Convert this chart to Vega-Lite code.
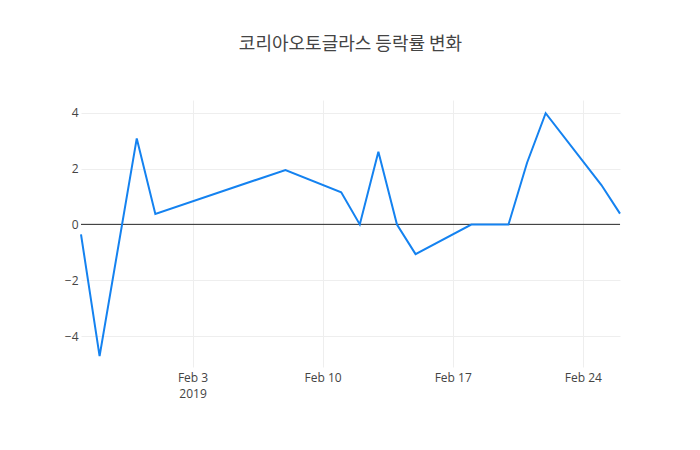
{
  "$schema": "https://vega.github.io/schema/vega-lite/v6.json",
  "autosize": {"type": "none"},
  "width": 539,
  "height": 267,
  "padding": {"left": 81, "top": 100, "right": 80, "bottom": 83},
  "background": "white",
  "title": {
    "text": "코리아오토글라스 등락률 변화",
    "font": "Noto Sans CJK KR",
    "fontSize": 18,
    "fontWeight": "normal",
    "color": "#444",
    "anchor": "middle",
    "baseline": "bottom",
    "offset": 28
  },
  "config": {
    "view": {"stroke": null},
    "axis": {
      "labelFont": "Open Sans",
      "labelFontSize": 12,
      "labelColor": "#444",
      "gridColor": "#eee",
      "gridWidth": 1,
      "domain": false,
      "ticks": false,
      "title": null
    }
  },
  "data": {
    "values": [
      {"date": "2019-01-28", "rate": -0.35},
      {"date": "2019-01-29", "rate": -4.71},
      {"date": "2019-01-31", "rate": 3.08},
      {"date": "2019-02-01", "rate": 0.38},
      {"date": "2019-02-08", "rate": 1.95},
      {"date": "2019-02-11", "rate": 1.15},
      {"date": "2019-02-12", "rate": 0},
      {"date": "2019-02-13", "rate": 2.6},
      {"date": "2019-02-14", "rate": 0},
      {"date": "2019-02-15", "rate": -1.06},
      {"date": "2019-02-18", "rate": 0},
      {"date": "2019-02-20", "rate": 0},
      {"date": "2019-02-21", "rate": 2.21},
      {"date": "2019-02-22", "rate": 3.98},
      {"date": "2019-02-25", "rate": 1.41},
      {"date": "2019-02-26", "rate": 0.39}
    ]
  },
  "encoding": {
    "x": {
      "field": "date",
      "type": "temporal",
      "scale": {
        "type": "utc",
        "domain": [
          {"year": 2019, "month": 1, "date": 28, "utc": true},
          {"year": 2019, "month": 2, "date": 26, "utc": true}
        ],
        "nice": false
      },
      "axis": {
        "values": [
          {"year": 2019, "month": 2, "date": 3, "utc": true},
          {"year": 2019, "month": 2, "date": 10, "utc": true},
          {"year": 2019, "month": 2, "date": 17, "utc": true},
          {"year": 2019, "month": 2, "date": 24, "utc": true}
        ],
        "labelExpr": "datum.index == 0 ? [utcFormat(datum.value, '%b %-d'), '2019'] : utcFormat(datum.value, '%b %-d')",
        "labelPadding": 5,
        "labelLineHeight": 16
      }
    },
    "y": {
      "field": "rate",
      "type": "quantitative",
      "scale": {"domain": [-5.097, 4.453], "nice": false, "zero": false},
      "axis": {"values": [-4, -2, 0, 2, 4], "labelPadding": 3}
    }
  },
  "layer": [
    {
      "mark": {"type": "rule", "color": "#444", "strokeWidth": 1},
      "encoding": {"y": {"datum": 0}, "x": {"value": 0}, "x2": {"value": 539}}
    },
    {
      "mark": {"type": "line", "color": "#1482f0", "strokeWidth": 2}
    }
  ]
}
